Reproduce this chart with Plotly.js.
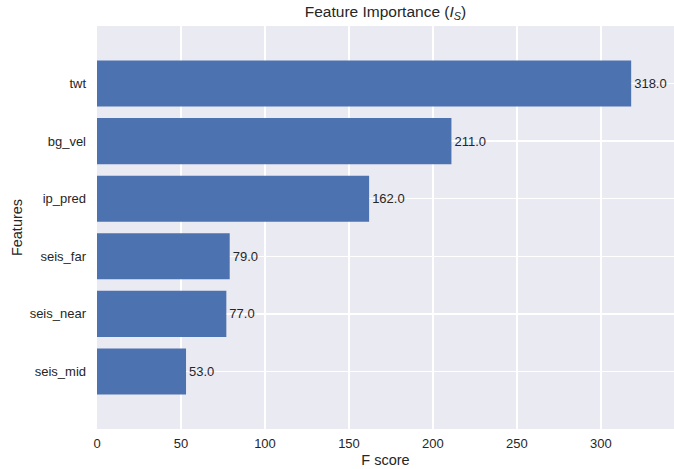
<!DOCTYPE html>
<html>
<head>
<meta charset="utf-8">
<script src="https://cdn.plot.ly/plotly-3.0.1.min.js"></script>
<style>html,body{margin:0;padding:0;background:#fff;}#chart{width:674px;height:469px;}</style>
</head>
<body>
<div id="chart"></div>
<script>
const features = ["seis_mid", "seis_near", "seis_far", "ip_pred", "bg_vel", "twt"];
const scores = [53, 77, 79, 162, 211, 318];
const xTicks = [0, 50, 100, 150, 200, 250, 300];

const trace = {
  type: "bar",
  orientation: "h",
  y: features.map((_, i) => i),
  x: scores,
  width: 0.8,
  marker: {color: "#4C72B0", line: {width: 0}},
  text: scores.map(v => v.toFixed(1)),
  textposition: "outside",
  cliponaxis: false,
  textfont: {family: "Liberation Sans, Arial, sans-serif", size: 13, color: "#262626"},
  hoverinfo: "skip"
};

const layout = {
  width: 674, height: 469,
  margin: {l: 97, r: 0, t: 26, b: 40},
  paper_bgcolor: "#ffffff",
  plot_bgcolor: "#EAEAF2",
  showlegend: false,
  font: {family: "Liberation Sans, Arial, sans-serif", color: "#262626", size: 13},
  title: {
    text: "Feature Importance (<i>I<sub>S</sub></i>)",
    x: 0.5, xref: "paper", xanchor: "center",
    y: 0.975, yref: "container", yanchor: "middle",
    font: {size: 15.5, color: "#262626"}
  },
  xaxis: {
    range: [0, 343.5],
    tickvals: xTicks,
    ticktext: xTicks.map(String),
    showgrid: true, gridcolor: "#ffffff", gridwidth: 1.3,
    zeroline: false, showline: false, ticks: "",
    ticklabelstandoff: 5,
    tickfont: {size: 13, color: "#262626"},
    title: {text: "F score", font: {size: 14.5, color: "#262626"}, standoff: 4}
  },
  yaxis: {
    range: [-1, 6],
    tickvals: features.map((_, i) => i),
    ticktext: features,
    showgrid: true, gridcolor: "#ffffff", gridwidth: 1.3,
    zeroline: false, showline: false, ticks: "",
    ticklabelstandoff: 10,
    tickfont: {size: 13, color: "#262626"},
    title: {text: "Features", font: {size: 14.5, color: "#262626"}, standoff: 3}
  },
  bargap: 0.2
};

Plotly.newPlot("chart", [trace], layout, {displayModeBar: false, staticPlot: true});
</script>
</body>
</html>
